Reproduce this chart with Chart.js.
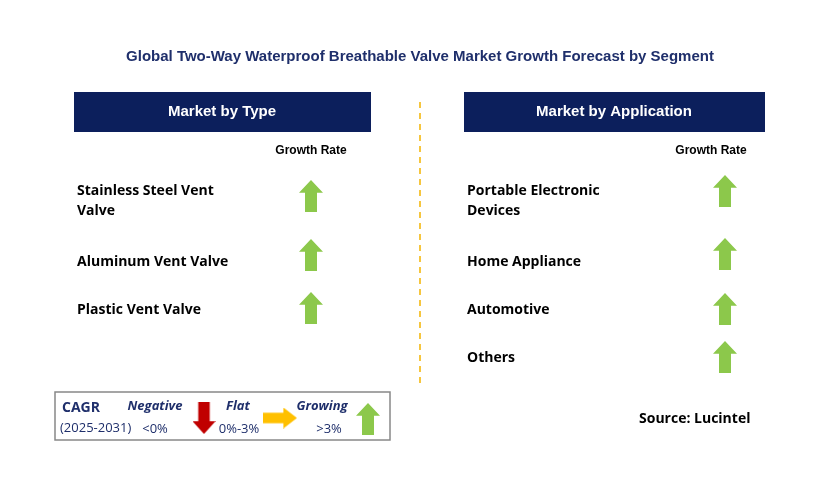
<!DOCTYPE html>
<html><head><meta charset="utf-8">
<script src="https://cdn.jsdelivr.net/npm/chart.js@4"></script>
<style>html,body{margin:0;padding:0;background:#fff}canvas{display:block}</style>
</head><body>
<canvas id="c" width="829" height="488"></canvas>
<script>
const title = 'Global Two-Way Waterproof Breathable Valve Market Growth Forecast by Segment';
const typeCategories = [['Stainless Steel Vent', 'Valve'], ['Aluminum Vent Valve'], ['Plastic Vent Valve']];
const typeGrowth = ['up', 'up', 'up'];
const appCategories = [['Portable Electronic', 'Devices'], ['Home Appliance'], ['Automotive'], ['Others']];
const appGrowth = ['up', 'up', 'up', 'up'];
const typeRows = [196, 255, 308];
const appRows = [191, 254, 309, 357];
const typeLabelY = [191, 262, 310];
const appLabelY = [191, 262, 310, 358];

const GREEN = '#8cc84b', RED = '#c00000', YELLOW = '#ffc000', NAVY = '#0c1f5c';

function arrowImg(dir, color, w, h) {
    const cv = document.createElement('canvas');
    cv.width = w; cv.height = h;
    const g = cv.getContext('2d');
    g.fillStyle = color;
    g.beginPath();
    if (dir === 'up' || dir === 'down') {
        const hh = h * 0.4, sw = w * 0.5;
        const pts = [[w / 2, 0], [w, hh], [w / 2 + sw / 2, hh], [w / 2 + sw / 2, h], [w / 2 - sw / 2, h], [w / 2 - sw / 2, hh], [0, hh]];
        pts.forEach(([x, y], i) => {
            const yy = dir === 'up' ? y : h - y;
            i ? g.lineTo(x, yy) : g.moveTo(x, yy);
        });
    } else {
        const hw = w * 0.4, sh = h * 0.5;
        const pts = [[w, h / 2], [w - hw, 0], [w - hw, h / 2 - sh / 2], [0, h / 2 - sh / 2], [0, h / 2 + sh / 2], [w - hw, h / 2 + sh / 2], [w - hw, h]];
        pts.forEach(([x, y], i) => i ? g.lineTo(x, y) : g.moveTo(x, y));
    }
    g.closePath();
    g.fill();
    return cv;
}
const img = { up: arrowImg('up', GREEN, 24, 32), down: arrowImg('down', RED, 23, 32), flat: arrowImg('right', YELLOW, 34, 21) };

const textPlugin = {
    id: 'texts',
    beforeDatasetsDraw(chart) {
        const g = chart.ctx;
        const xs = chart.scales.x, ys = chart.scales.y;
        const X = v => xs.getPixelForValue(v), Y = v => ys.getPixelForValue(v);
        g.save();
        g.textBaseline = 'middle';
        g.textAlign = 'center';
        g.fillStyle = '#1f2f6b';
        g.font = 'bold 15px "Liberation Sans", Arial, sans-serif';
        g.fillText(title, X(420), Y(57));
        g.fillStyle = NAVY;
        g.fillRect(X(74), Y(92), 297, 40);
        g.fillRect(X(464), Y(92), 301, 40);
        g.fillStyle = '#fff';
        g.fillText('Market by Type', X(222), Y(112));
        g.fillText('Market by Application', X(614), Y(112));
        g.fillStyle = '#000';
        g.font = 'bold 12px "Liberation Sans", Arial, sans-serif';
        g.fillText('Growth Rate', X(311), Y(151));
        g.fillText('Growth Rate', X(711), Y(151));
        g.strokeStyle = '#f4b400';
        g.lineWidth = 1.5;
        g.setLineDash([6, 5]);
        g.beginPath(); g.moveTo(X(420), Y(102)); g.lineTo(X(420), Y(386)); g.stroke();
        g.setLineDash([]);
        g.textAlign = 'left';
        g.font = 'bold 14px "Open Sans", sans-serif';
        g.fillStyle = '#000';
        const drawCats = (cats, ly, x) => cats.forEach((lines, i) => {
            lines.forEach((t, j) => g.fillText(t, x, Y(ly[i]) + j * 20));
        });
        drawCats(typeCategories, typeLabelY, X(77));
        drawCats(appCategories, appLabelY, X(467));
        g.fillText('Source: Lucintel', X(639), Y(419));
        // legend box
        g.strokeStyle = '#888';
        g.lineWidth = 1.5;
        g.strokeRect(X(55), Y(392), 335, 48);
        g.fillStyle = '#1f2f6b';
        g.font = 'bold 14px "Open Sans", sans-serif';
        g.fillText('CAGR', X(62), Y(408));
        g.font = '13px "Open Sans", sans-serif';
        g.fillText('(2025-2031)', X(60), Y(428));
        g.font = 'italic bold 13px "Open Sans", sans-serif';
        g.textAlign = 'center';
        g.fillText('Negative', X(155), Y(406));
        g.fillText('Flat', X(238), Y(406));
        g.fillText('Growing', X(322), Y(406));
        g.font = '13px "Open Sans", sans-serif';
        g.fillText('<0%', X(155), Y(429));
        g.fillText('0%-3%', X(239), Y(429));
        g.fillText('>3%', X(329), Y(429));
        g.restore();
    }
};

const pts = (xv, rows, growth) => rows.map((y, i) => ({ x: xv, y, s: growth[i] }));
const typePts = pts(311, typeRows, typeGrowth);
const appPts = pts(725, appRows, appGrowth);
const legendPts = [{ x: 204, y: 418, s: 'down' }, { x: 280, y: 418, s: 'flat' }, { x: 368, y: 419, s: 'up' }];

new Chart(document.getElementById('c'), {
    type: 'scatter',
    data: {
        datasets: [typePts, appPts, legendPts].map(d => ({
            data: d,
            pointStyle: d.map(p => img[p.s]),
            pointRadius: 12
        }))
    },
    options: {
        responsive: false,
        animation: false,
        layout: { padding: 0, autoPadding: false },
        scales: {
            x: { display: false, min: 0, max: 829 },
            y: { display: false, min: 0, max: 488, reverse: true }
        },
        plugins: { legend: { display: false }, tooltip: { enabled: false } }
    },
    plugins: [textPlugin]
});
</script>
</body></html>
